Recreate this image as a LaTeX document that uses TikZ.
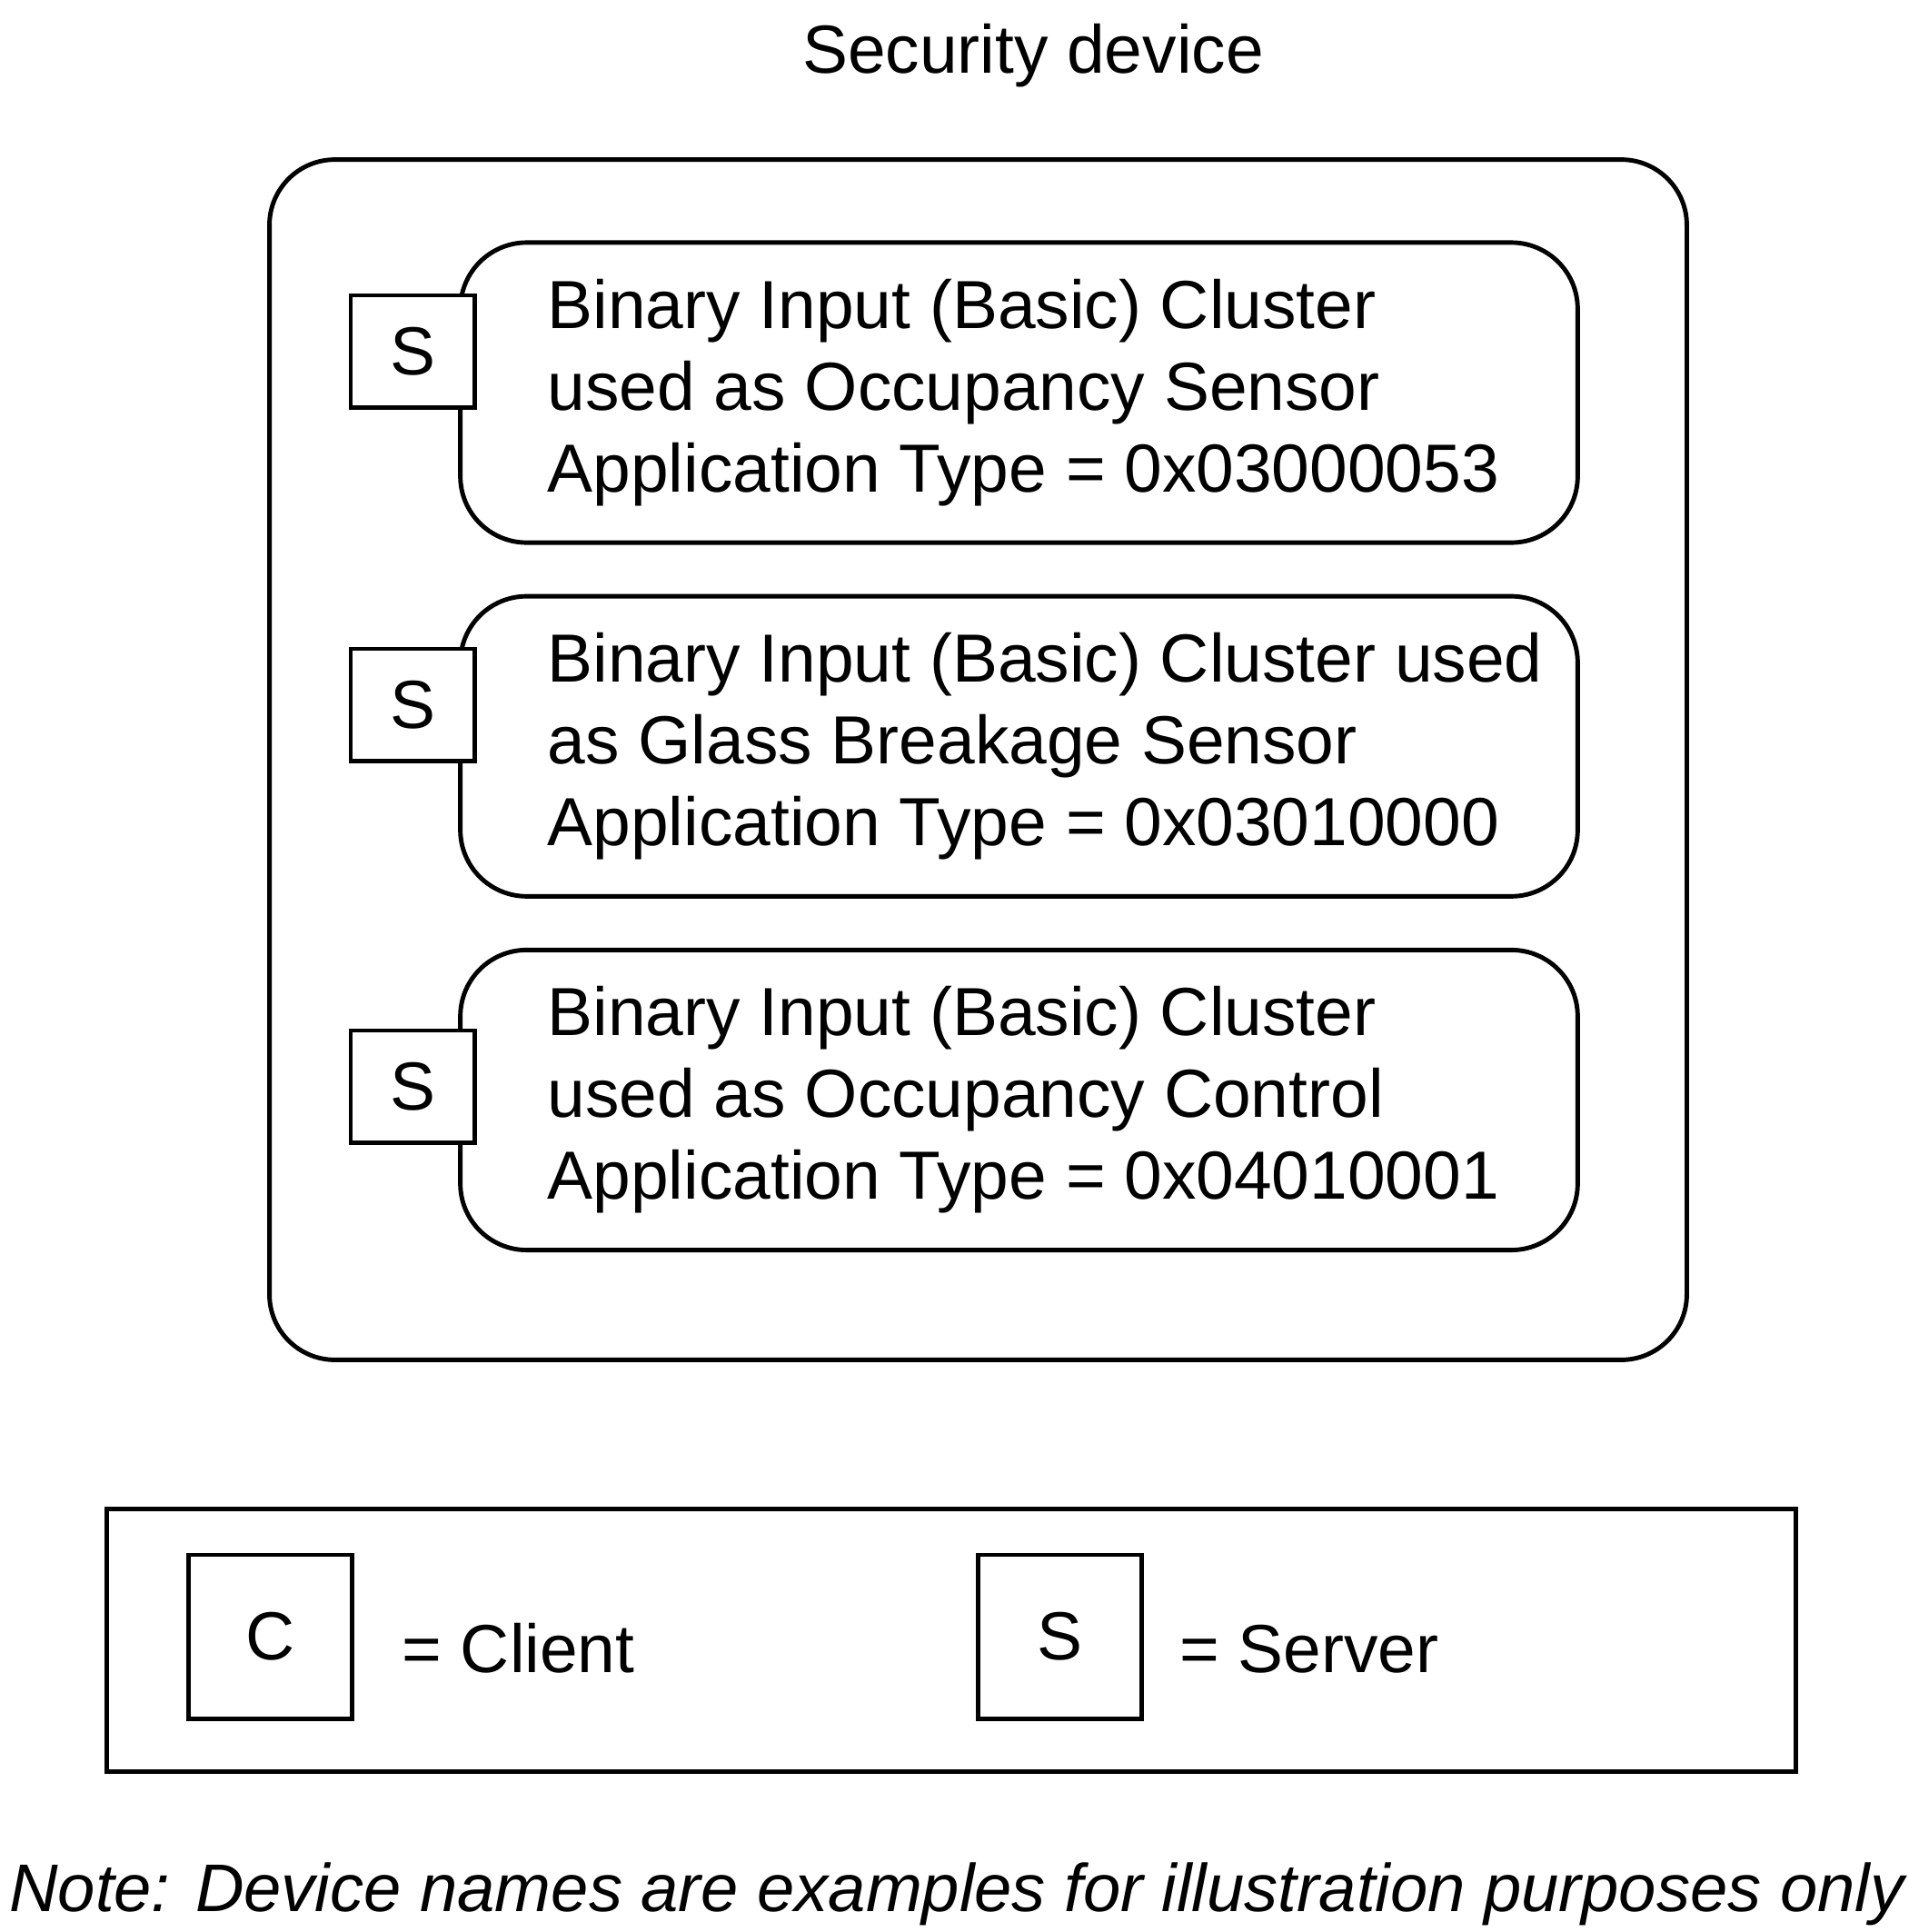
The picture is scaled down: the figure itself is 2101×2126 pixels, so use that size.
\documentclass[tikz,border=0pt]{standalone}
\usepackage{fontspec}
\setmainfont{Liberation Sans}
\usetikzlibrary{positioning}

\begin{document}
\begin{tikzpicture}[x=0.01cm, y=-0.01cm, line width=1.4pt, node distance=3.89cm,
        font=\fontsize{21.3}{25.6}\selectfont,
        cluster/.style={draw, rounded corners=0.73cm, minimum width=12.29cm, minimum height=3.30cm},
        srv/.style={draw, fill=white, minimum width=1.36cm, minimum height=1.23cm, inner sep=0pt},
        legkey/.style={draw, minimum width=1.79cm, minimum height=1.80cm, inner sep=0pt},
        info/.style={align=left, inner sep=0pt}]
            \useasboundingbox (0,0) rectangle (2101,2126);
            \node (Title)  [anchor=base, inner sep=0pt] at (1137,80) {Security device};
            \node (Device) [draw, rounded corners=0.72cm, minimum width=15.59cm, minimum height=13.20cm] at (1076.5,836) {};
            % clusters of the device
            \node (Occ)    [cluster] at (1121.5,432) {};
            \node (Glass)  [cluster, below of=Occ]   {};
            \node (Ctrl)   [cluster, below of=Glass] {};
            \node (OccText)   [info, right=0.96cm of Occ.west]   {Binary Input (Basic) Cluster\\used as Occupancy Sensor\\Application Type = 0x03000053};
            \node (GlassText) [info, right=0.96cm of Glass.west] {Binary Input (Basic) Cluster used\\as Glass Breakage Sensor\\Application Type = 0x03010000};
            \node (CtrlText)  [info, right=0.96cm of Ctrl.west]  {Binary Input (Basic) Cluster\\used as Occupancy Control\\Application Type = 0x04010001};
            \node (OccS)   [srv] at (454,386.5)  {S};
            \node (GlassS) [srv] at (454,775.5)  {S};
            \node (CtrlS)  [srv] at (454,1195.5) {S};
            % legend
            \node (Legend) [draw, minimum width=18.58cm, minimum height=2.88cm] at (1047,1805) {};
            \node (CKey)   [legkey] at (297.5,1801)  {C};
            \node (SKey)   [legkey] at (1166.5,1801) {S};
            \node (CText)  [anchor=base west, inner sep=0pt] at (440,1840)  {= Client};
            \node (SText)  [anchor=base west, inner sep=0pt] at (1296,1840) {= Server};
            \node (Note)   [anchor=base, inner sep=0pt, font=\fontsize{21.1}{25.6}\selectfont\itshape] at (1053,2103)
                {Note: Device names are examples for illustration purposes only};
        \end{tikzpicture}
\end{document}
